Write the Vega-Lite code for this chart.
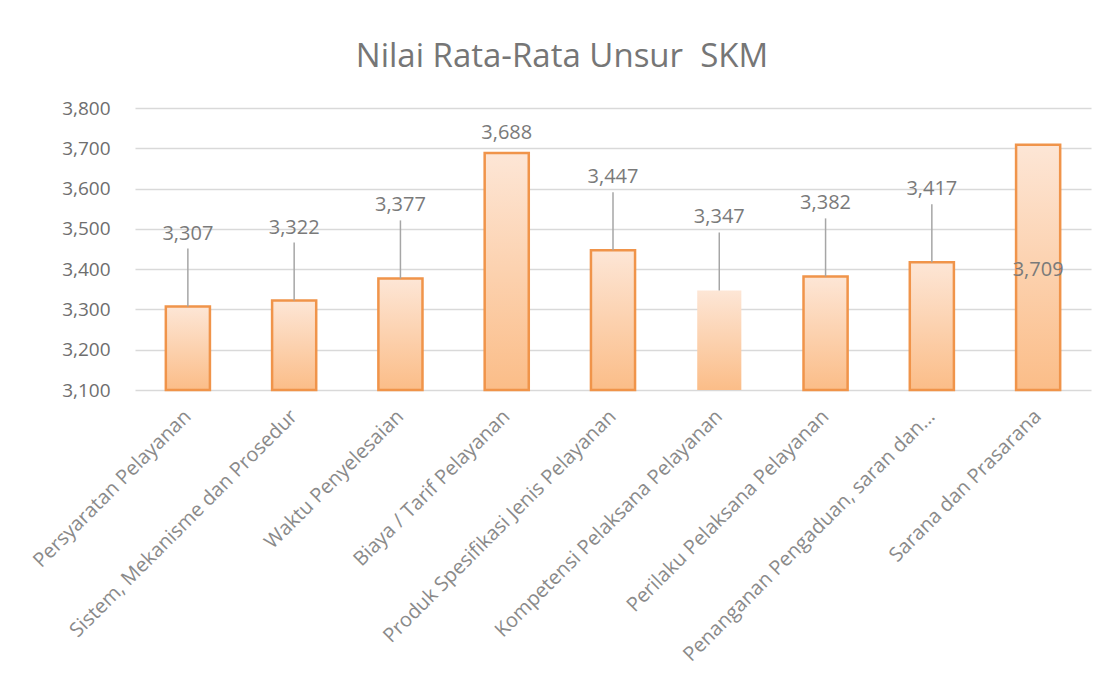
{
  "$schema": "https://vega.github.io/schema/vega-lite/v6.json",
  "width": 956,
  "height": 282,
  "autosize": "none",
  "padding": {"left": 135, "top": 108, "right": 24, "bottom": 287},
  "background": "white",
  "config": {
    "locale": {"number": {"decimal": ",", "thousands": ".", "grouping": [3], "currency": ["Rp", ""]}},
    "font": "Open Sans",
    "view": {"stroke": null}
  },
  "title": {
    "text": "Nilai Rata-Rata Unsur\u00a0 SKM",
    "font": "Open Sans",
    "fontSize": 33,
    "fontWeight": "normal",
    "color": "#767676",
    "anchor": "middle",
    "dx": -51,
    "offset": 25
  },
  "data": {
    "values": [
      {"unsur": "Persyaratan Pelayanan", "nilai": 3.307},
      {"unsur": "Sistem, Mekanisme dan Prosedur", "nilai": 3.322},
      {"unsur": "Waktu Penyelesaian", "nilai": 3.377},
      {"unsur": "Biaya / Tarif Pelayanan", "nilai": 3.688},
      {"unsur": "Produk Spesifikasi Jenis Pelayanan", "nilai": 3.447},
      {"unsur": "Kompetensi Pelaksana Pelayanan", "nilai": 3.347},
      {"unsur": "Perilaku Pelaksana Pelayanan", "nilai": 3.382},
      {"unsur": "Penanganan Pengaduan, saran dan Masukan", "nilai": 3.417},
      {"unsur": "Sarana dan Prasarana", "nilai": 3.709}
    ]
  },
  "encoding": {
    "x": {
      "field": "unsur",
      "type": "nominal",
      "sort": null,
      "title": null,
      "scale": {"paddingInner": 0.585, "paddingOuter": 0.29},
      "axis": {
        "domain": false,
        "ticks": false,
        "labelAngle": -45,
        "labelAlign": "right",
        "labelBaseline": "middle",
        "labelPadding": 23,
        "labelFont": "Open Sans",
        "labelFontSize": 20,
        "labelColor": "#8a8a8a",
        "labelLimit": 600,
        "labelExpr": "datum.label == 'Penanganan Pengaduan, saran dan Masukan' ? 'Penanganan Pengaduan, saran dan...' : datum.label"
      }
    }
  },
  "layer": [
    {
      "mark": {
        "type": "bar",
        "fill": {
          "gradient": "linear",
          "x1": 0, "y1": 0, "x2": 0, "y2": 1,
          "stops": [
            {"offset": 0, "color": "#fde6d6"},
            {"offset": 1, "color": "#fbbd88"}
          ]
        },
        "stroke": "#f0944a",
        "strokeWidth": 2.5
      },
      "encoding": {
        "y": {
          "field": "nilai",
          "type": "quantitative",
          "title": null,
          "scale": {"domain": [3.1, 3.8], "zero": false, "nice": false},
          "axis": {
            "values": [3.1, 3.2, 3.3, 3.4, 3.5, 3.6, 3.7, 3.8],
            "format": ".3f",
            "domain": false,
            "ticks": false,
            "labelPadding": 25,
            "labelFont": "Open Sans",
            "labelFontSize": 19,
            "labelColor": "#6e6e6e",
            "gridColor": "#d9d9d9",
            "gridWidth": 1.5
          }
        },
        "y2": {"datum": 3.1},
        "strokeOpacity": {
          "condition": {"test": "datum.unsur == 'Kompetensi Pelaksana Pelayanan'", "value": 0},
          "value": 1
        }
      }
    },
    {
      "transform": [{"filter": "datum.unsur != 'Biaya / Tarif Pelayanan' && datum.unsur != 'Sarana dan Prasarana'"}],
      "mark": {"type": "rule", "color": "#a6a6a6", "strokeWidth": 1.5, "y2Offset": -58},
      "encoding": {
        "y": {"field": "nilai", "type": "quantitative"},
        "y2": {"field": "nilai"}
      }
    },
    {
      "transform": [{"filter": "datum.unsur != 'Biaya / Tarif Pelayanan' && datum.unsur != 'Sarana dan Prasarana'"}],
      "mark": {"type": "text", "dy": -73, "baseline": "middle", "font": "Open Sans", "fontSize": 20, "color": "#7a7a7a"},
      "encoding": {
        "y": {"field": "nilai", "type": "quantitative"},
        "text": {"field": "nilai", "type": "quantitative", "format": ".3f"}
      }
    },
    {
      "transform": [{"filter": "datum.unsur == 'Biaya / Tarif Pelayanan'"}],
      "mark": {"type": "text", "dy": -20, "baseline": "middle", "font": "Open Sans", "fontSize": 20, "color": "#7a7a7a"},
      "encoding": {
        "y": {"field": "nilai", "type": "quantitative"},
        "text": {"field": "nilai", "type": "quantitative", "format": ".3f"}
      }
    },
    {
      "transform": [{"filter": "datum.unsur == 'Sarana dan Prasarana'"}],
      "mark": {"type": "text", "dy": 125, "baseline": "middle", "font": "Open Sans", "fontSize": 20, "color": "#7a7a7a"},
      "encoding": {
        "y": {"field": "nilai", "type": "quantitative"},
        "text": {"field": "nilai", "type": "quantitative", "format": ".3f"}
      }
    }
  ]
}
